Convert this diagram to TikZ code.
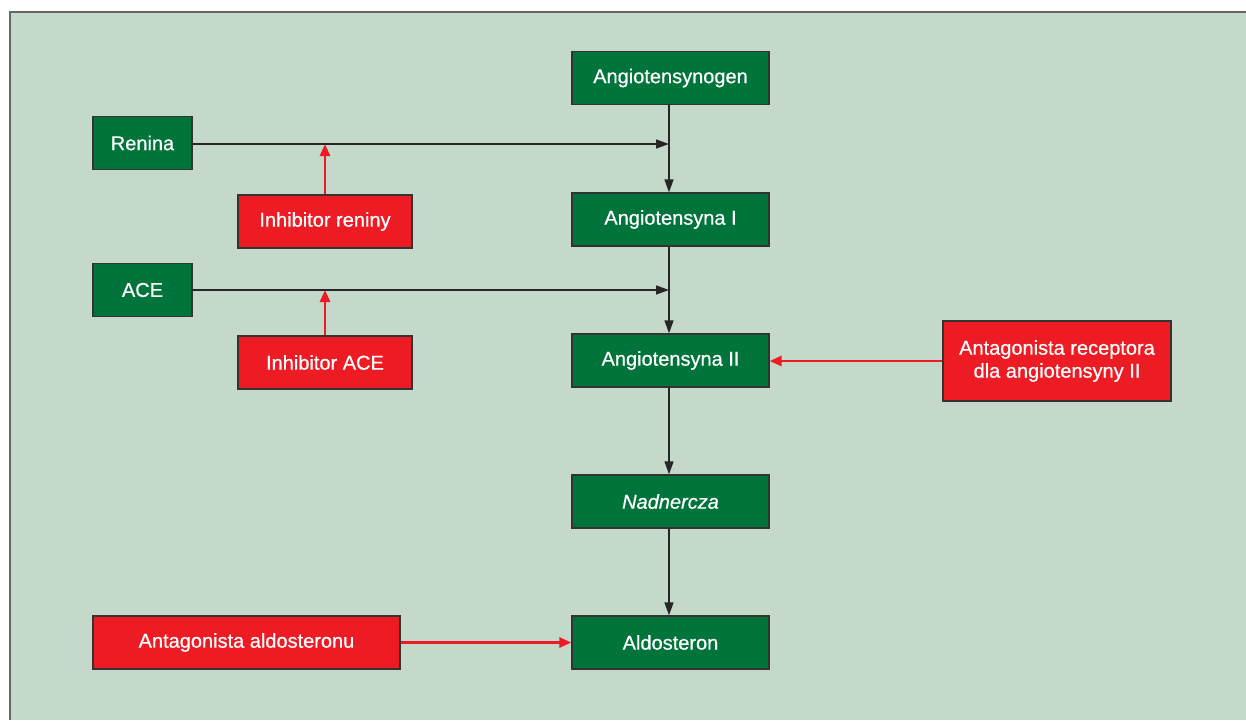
\documentclass[tikz,border=0pt]{standalone}
\usepackage{fontspec}
\setmainfont[FakeBold=0.6]{Liberation Sans}
\usetikzlibrary{arrows.meta}
\definecolor{bgc}{HTML}{C4D9CA}
\definecolor{gfill}{HTML}{00743A}
\definecolor{rfill}{HTML}{ED1C24}
\definecolor{frame}{HTML}{666666}
\definecolor{edge}{HTML}{333333}
\begin{document}
\begin{tikzpicture}[x=1pt,y=-1pt,
  base/.style={draw=edge, line width=1.3pt, text=white, font=\fontsize{20}{23}\selectfont, inner sep=0pt, align=center, minimum height=53pt},
  gbox/.style={base, fill=gfill},
  rbox/.style={base, fill=rfill},
  blk/.style={draw=black!85, line width=1.5pt, -{Triangle[length=13pt,width=9pt]}},
  red/.style={draw=rfill, line width=2.8pt, -{Triangle[length=12pt,width=10pt]}}
]
\useasboundingbox (0,0) rectangle (1246,720);
\fill[white] (0,0) rectangle (1246,720);
\fill[bgc] (10,12) rectangle (1246,720);
\draw[frame, line width=1.5pt] (10,720) -- (10,12) -- (1246,12);

% main column
\node[gbox, minimum width=197pt] (ag) at (670.5,78) {Angiotensynogen};
\node[gbox, minimum width=197pt] (a1) at (670.5,219.5) {Angiotensyna I};
\node[gbox, minimum width=197pt] (a2) at (670.5,360.5) {Angiotensyna II};
\node[gbox, minimum width=197pt] (nad) at (670.5,501.5) {\itshape Nadnercza};
\node[gbox, minimum width=197pt] (ald) at (670.5,642.5) {Aldosteron};

% left
\node[gbox, minimum width=99pt] (ren) at (142.5,143) {Renina};
\node[rbox, minimum width=174pt] (ir) at (325,221.5) {Inhibitor reniny};
\node[gbox, minimum width=99pt] (ace) at (142.5,290) {ACE};
\node[rbox, minimum width=174pt] (ia) at (325,362.5) {Inhibitor ACE};
\node[rbox, minimum width=307pt] (aa) at (246.5,642.5) {Antagonista aldosteronu};

% right
\node[rbox, minimum width=228pt, minimum height=80pt] (ar) at (1057,361) {Antagonista receptora\\dla angiotensyny II};

% coordinates on main line
\coordinate (r1) at (669,144);
\coordinate (c1) at (669,290);

% black arrows
\draw[blk] (ren.east |- r1) -- (r1);
\draw[blk] (ace.east |- c1) -- (c1);
\draw[blk] (ag.south -| r1) -- (a1.north -| r1);
\draw[blk] (a1.south -| r1) -- (a2.north -| r1);
\draw[blk] (a2.south -| r1) -- (nad.north -| r1);
\draw[blk] (nad.south -| r1) -- (ald.north -| r1);

% red arrows
\draw[red] (ir.north) -- (ir.north |- r1);
\draw[red] (ia.north) -- (ia.north |- c1);
\draw[red] (ar.west) -- (ar.west -| a2.east);
\draw[red] (aa.east) -- (ald.west);
\end{tikzpicture}
\end{document}
